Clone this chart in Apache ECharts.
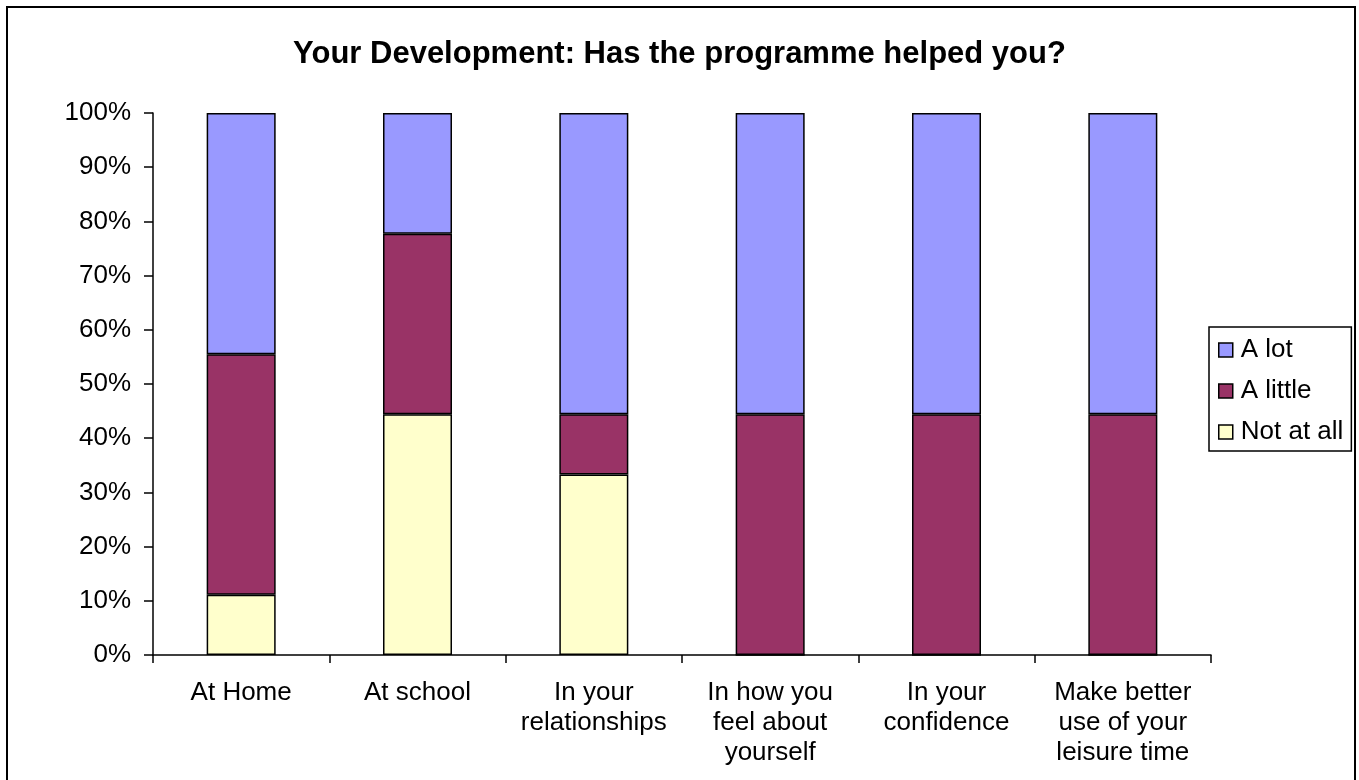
<!DOCTYPE html>
<html>
<head>
<meta charset="utf-8">
<script src="https://cdn.jsdelivr.net/npm/echarts@6/dist/echarts.min.js"></script>
<style>
  html, body { margin: 0; padding: 0; background: #fff; }
  #chart { width: 1359px; height: 780px; }
</style>
</head>
<body>
<div id="chart"></div>
<script>
// categories (line breaks as in the original labels)
const categories = [
  'At Home',
  'At school',
  'In your\nrelationships',
  'In how you\nfeel about\nyourself',
  'In your\nconfidence',
  'Make better\nuse of your\nleisure time'
]
// percentages
const notAtAll = [11.1, 44.4, 33.3, 0, 0, 0]
const aLittle = [44.4, 33.3, 11.1, 44.4, 44.4, 44.4]
const aLot = [44.5, 22.3, 55.6, 55.6, 55.6, 55.6]
const yTicks = [0, 10, 20, 30, 40, 50, 60, 70, 80, 90, 100]

const font = '"Liberation Sans", Arial, sans-serif'
const chart = echarts.init(document.getElementById('chart'), null, { renderer: 'canvas' })

const barStyle = (color) => ({ color: color, borderColor: '#000', borderWidth: 1.5 })

const option = {
  backgroundColor: '#fff',
  animation: false,
  textStyle: { fontFamily: font, color: '#000' },
  title: {
    text: 'Your Development: Has the programme helped you?',
    left: 'center',
    top: 34,
    textStyle: { fontFamily: font, fontSize: 31, fontWeight: 'bold', color: '#000' }
  },
  graphic: [
    {
      type: 'rect',
      shape: { x: 7, y: 7, width: 1348, height: 800 },
      style: { fill: 'none', stroke: '#000', lineWidth: 2 },
      silent: true
    }
  ],
  legend: {
    orient: 'vertical',
    left: 1209,
    top: 327,
    data: ['A lot', 'A little', 'Not at all'],
    icon: 'rect',
    itemWidth: 14,
    itemHeight: 14,
    itemGap: 15,
    padding: [10, 8, 6, 9],
    borderColor: '#000',
    borderWidth: 1.5,
    backgroundColor: '#fff',
    itemStyle: { borderColor: '#000', borderWidth: 1.5 },
    textStyle: { fontFamily: font, fontSize: 26, lineHeight: 26, color: '#000', padding: [0, 0, 0, 3] }
  },
  grid: { left: 153, right: 148, top: 113, bottom: 125 },
  xAxis: {
    type: 'category',
    data: categories,
    axisLine: { lineStyle: { color: '#000', width: 1.5 } },
    axisTick: { show: true, length: 8, inside: false, lineStyle: { color: '#000', width: 1.5 } },
    axisLabel: { color: '#000', fontFamily: font, fontSize: 26, lineHeight: 30, margin: 23, interval: 0 }
  },
  yAxis: {
    type: 'value',
    min: yTicks[0],
    max: yTicks[yTicks.length - 1],
    interval: 10,
    splitLine: { show: false },
    axisLine: { show: true, lineStyle: { color: '#000', width: 1.5 } },
    axisTick: { show: true, length: 9, lineStyle: { color: '#000', width: 1.5 } },
    axisLabel: { color: '#000', fontFamily: font, fontSize: 26, margin: 22, formatter: '{value}%' }
  },
  series: [
    { name: 'Not at all', type: 'bar', stack: 'total', barWidth: 69, data: notAtAll, itemStyle: barStyle('#FFFFCC') },
    { name: 'A little', type: 'bar', stack: 'total', barWidth: 69, data: aLittle, itemStyle: barStyle('#993366') },
    { name: 'A lot', type: 'bar', stack: 'total', barWidth: 69, data: aLot, itemStyle: barStyle('#9999FF') }
  ]
}

chart.setOption(option)
</script>
</body>
</html>
